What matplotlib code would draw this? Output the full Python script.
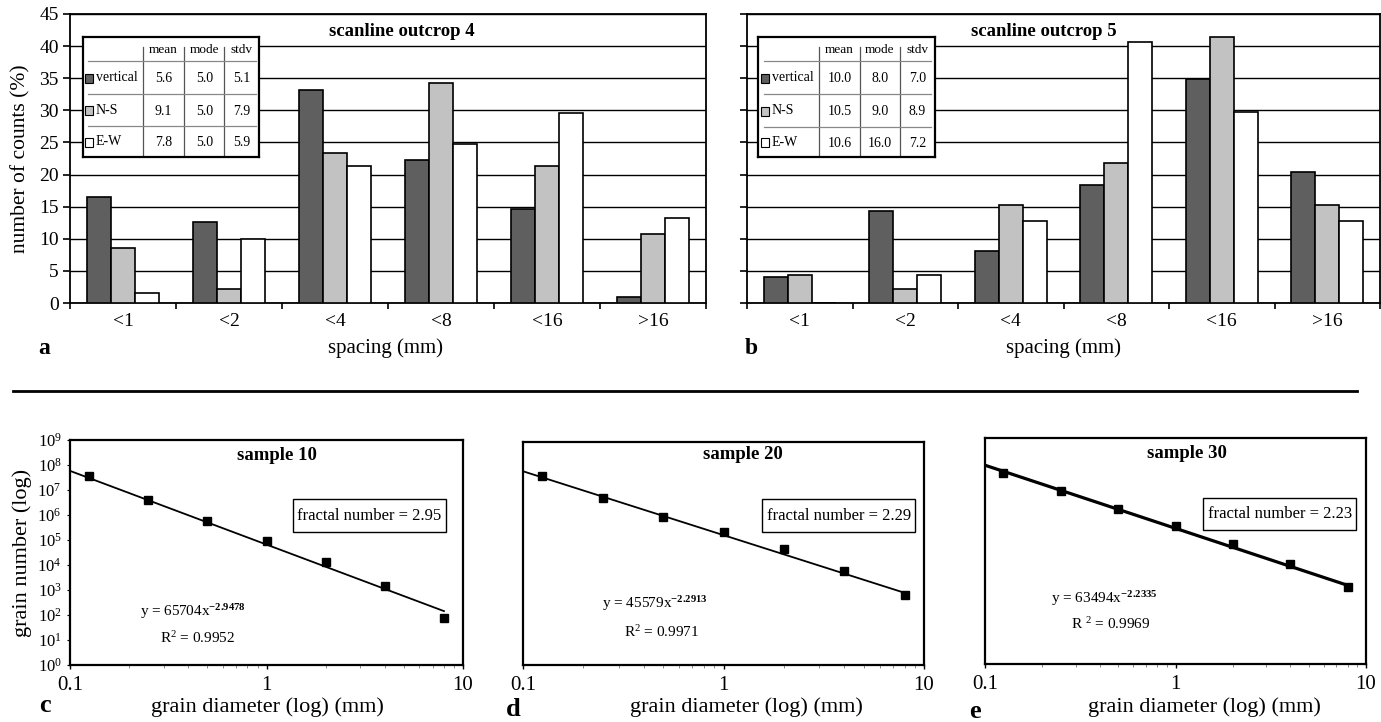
import numpy as np
import matplotlib
matplotlib.use('Agg')
import matplotlib.pyplot as plt
from matplotlib.lines import Line2D
from matplotlib.patches import Rectangle
from matplotlib.ticker import FixedLocator, NullLocator, NullFormatter, FixedFormatter, LogLocator

# ---------------- data ----------------
categories = ['<1', '<2', '<4', '<8', '<16', '>16']
series_names = ['vertical', 'N-S', 'E-W']
outcrop4_vertical = [16.5, 12.6, 33.2, 22.3, 14.6, 1.0]
outcrop4_ns = [8.5, 2.2, 23.4, 34.2, 21.4, 10.7]
outcrop4_ew = [1.6, 10.0, 21.4, 24.7, 29.6, 13.2]
outcrop5_vertical = [4.1, 14.4, 8.1, 18.4, 34.9, 20.4]
outcrop5_ns = [4.4, 2.2, 15.3, 21.8, 41.4, 15.3]
outcrop5_ew = [0.0, 4.3, 12.8, 40.6, 29.8, 12.8]
table_cols = ['mean', 'mode', 'stdv']
outcrop4_stats = [['5.6', '5.0', '5.1'], ['9.1', '5.0', '7.9'], ['7.8', '5.0', '5.9']]
outcrop5_stats = [['10.0', '8.0', '7.0'], ['10.5', '9.0', '8.9'], ['10.6', '16.0', '7.2']]

grain_diameter = [0.125, 0.25, 0.5, 1, 2, 4, 8]
sample10_counts = [3.6e7, 4.0e6, 5.9e5, 8.9e4, 1.35e4, 1.49e3, 78]
sample20_counts = [6.0e6, 9.5e5, 2.0e5, 6.0e4, 1.48e4, 2.35e3, 316]
sample30_counts = [5.6e6, 1.29e6, 3.0e5, 7.6e4, 1.77e4, 3.55e3, 534]
fit_coef = [65704, 45579, 63494]
fit_exp = [-2.9478, -2.2913, -2.2335]
r_squared = ['0.9952', '0.9971', '0.9969']
fractal_numbers = ['2.95', '2.29', '2.23']
sample_names = ['sample 10', 'sample 20', 'sample 30']

# ---------------- style ----------------
plt.rcParams['font.family'] = ['Liberation Serif', 'DejaVu Serif']
plt.rcParams['mathtext.fontset'] = 'custom'
plt.rcParams['mathtext.rm'] = 'Liberation Serif'
plt.rcParams['mathtext.it'] = 'Liberation Serif:italic'
plt.rcParams['mathtext.bf'] = 'Liberation Serif:bold'

W, H = 1381, 722
fig = plt.figure(figsize=(W / 100, H / 100), dpi=100)


def rect(l, t, r, b):
    return [l / W, 1 - b / H, (r - l) / W, (b - t) / H]


def fx(x):
    return x / W


def fy(y):
    return 1 - y / H


colors = ['#5f5f5f', '#c2c2c2', '#ffffff']
bar_w = 0.227


def bar_panel(box, series, title, title_x, table_box, stats):
    ax = fig.add_axes(box)
    x = np.arange(len(categories))
    for i, vals in enumerate(series):
        ax.bar(x + (i - 1) * bar_w, vals, width=bar_w, color=colors[i],
               edgecolor='black', linewidth=1.2, zorder=3)
    ax.set_xlim(-0.5, len(categories) - 0.5)
    ax.set_ylim(0, 45)
    ax.yaxis.set_major_locator(FixedLocator(np.arange(0, 46, 5)))
    ax.yaxis.grid(True, color='black', linewidth=1.0, zorder=0)
    ax.set_axisbelow(True)
    ax.xaxis.set_major_locator(FixedLocator(np.arange(-0.5, len(categories), 1.0)))
    ax.xaxis.set_major_formatter(NullFormatter())
    ax.xaxis.set_minor_locator(FixedLocator(x))
    ax.xaxis.set_minor_formatter(FixedFormatter(categories))
    ax.tick_params(axis='x', which='major', direction='out', length=4, width=1.2)
    ax.tick_params(axis='x', which='minor', length=0, pad=7, labelsize=14)
    ax.tick_params(axis='y', direction='out', length=5, width=1.2, pad=3, labelsize=14)
    for s in ax.spines.values():
        s.set_linewidth(1.3)
    ax.text(title_x, 0.938, title, transform=ax.transAxes, ha='center', va='center',
            fontsize=13.5, fontweight='bold')

    # inset table with legend swatches
    tb = fig.add_axes(table_box, zorder=5)
    tb.set_xlim(0, 1)
    tb.set_ylim(1, 0)
    tb.set_xticks([])
    tb.set_yticks([])
    for s in tb.spines.values():
        s.set_linewidth(1.6)
    col_edges = [0.343, 0.574, 0.802, 1.0]
    row_edges = [0.0, 0.2025, 0.475, 0.747, 1.0]
    for c in col_edges[:-1]:
        tb.plot([c, c], [0.083, 1], color='#555555', lw=0.9)
    for r in row_edges[1:-1]:
        tb.plot([0.03, 0.98], [r, r], color='#888888', lw=0.9)
    for j, name in enumerate(table_cols):
        tb.text((col_edges[j] + col_edges[j + 1]) / 2, 0.11, name, ha='center',
                va='center', fontsize=9.5)
    for i, name in enumerate(series_names):
        yc = (row_edges[i + 1] + row_edges[i + 2]) / 2 + 0.01
        tb.add_patch(Rectangle((0.014, yc - 0.04), 0.045, 0.075, facecolor=colors[i],
                               edgecolor='black', linewidth=0.8))
        tb.text(0.075, yc - 0.01, name, ha='left', va='center', fontsize=10)
        for j in range(3):
            tb.text((col_edges[j] + col_edges[j + 1]) / 2, yc, stats[i][j], ha='center',
                    va='center', fontsize=10)
    return ax


ax_a = bar_panel(rect(70, 14, 706, 303), [outcrop4_vertical, outcrop4_ns, outcrop4_ew],
                 'scanline outcrop 4', 0.522, rect(82.7, 36.7, 259.3, 156.7), outcrop4_stats)
ax_b = bar_panel(rect(747, 14, 1380, 303), [outcrop5_vertical, outcrop5_ns, outcrop5_ew],
                 'scanline outcrop 5', 0.469, rect(758.3, 36.7, 935, 157.3), outcrop5_stats)
ax_b.yaxis.set_major_formatter(NullFormatter())
ax_a.set_ylabel('number of counts (%)', fontsize=15.5, labelpad=6)

fig.text(fx(44), fy(348), 'a', fontsize=17, fontweight='bold', ha='center', va='center')
fig.text(fx(751), fy(348), 'b', fontsize=17, fontweight='bold', ha='center', va='center')
fig.text(fx(386), fy(348), 'spacing (mm)', fontsize=15, ha='center', va='center')
fig.text(fx(1063), fy(348), 'spacing (mm)', fontsize=15, ha='center', va='center')

fig.add_artist(Line2D([fx(13), fx(1357)], [fy(391), fy(391)], color='black', lw=2.0))

# ---------------- bottom panels ----------------
boxes = [rect(70, 440, 463, 665), rect(523, 442, 924, 665), rect(985, 438, 1366, 664)]
counts = [sample10_counts, sample20_counts, sample30_counts]
ytops = [1e9, 1e8, 1e8]
line_w = [1.3, 1.3, 2.3]
title_pos = [(0.527, 0.933), (0.549, 0.942), (0.529, 0.932)]
box_pos = [(0.762, 0.664, 0.389, 0.147), (0.787, 0.670, 0.381, 0.145), (0.774, 0.663, 0.402, 0.14)]
eq_pos = [(0.178, 0.236), (0.196, 0.277), (0.172, 0.291)]
r2_pos = [(0.229, 0.12), (0.251, 0.149), (0.225, 0.177)]
r2_prefix = ['R$^{2}$ = ', 'R$^{2}$ = ', 'R $^{2}$ = ']
letters = ['c', 'd', 'e']
letter_pos = [(45, 706), (513, 709), (975, 711)]
xlabel_x = [267, 746, 1204]

for k in range(3):
    ax = fig.add_axes(boxes[k])
    ax.set_xscale('log')
    ax.set_yscale('log')
    ax.set_xlim(0.1, 10)
    ax.set_ylim(1, ytops[k])
    xf = np.logspace(-1, np.log10(grain_diameter[-1]), 60)
    ax.plot(xf, fit_coef[k] * xf ** fit_exp[k], color='black', lw=line_w[k], zorder=2)
    ax.plot(grain_diameter, counts[k], 's', color='black', ms=5.5, zorder=3)
    ax.xaxis.set_major_locator(FixedLocator([0.1, 1, 10]))
    ax.xaxis.set_major_formatter(FixedFormatter(['0.1', '1', '10']))
    ax.xaxis.set_minor_locator(LogLocator(base=10, subs=np.arange(2, 10)))
    ax.xaxis.set_minor_formatter(NullFormatter())
    ax.tick_params(axis='x', which='major', length=3, width=1, pad=5, labelsize=15)
    ax.tick_params(axis='x', which='minor', length=2, width=0.6, color='#777777')
    if k == 0:
        ax.yaxis.set_major_locator(FixedLocator([10.0 ** i for i in range(10)]))
        ax.yaxis.set_major_formatter(FixedFormatter([r'$\mathregular{10^{%d}}$' % i for i in range(10)]))
        ax.yaxis.set_minor_locator(NullLocator())
        ax.tick_params(axis='y', length=2, width=0.8, pad=4, labelsize=12)
        ax.set_ylabel('grain number (log)', fontsize=16, labelpad=4)
    else:
        ax.yaxis.set_major_locator(NullLocator())
        ax.yaxis.set_minor_locator(NullLocator())
    for s in ax.spines.values():
        s.set_linewidth(1.6)
    ax.text(title_pos[k][0], title_pos[k][1], sample_names[k], transform=ax.transAxes,
            ha='center', va='center', fontsize=13.5, fontweight='bold')
    bx, by, bw, bh = box_pos[k]
    ax.add_patch(Rectangle((bx - bw / 2, by - bh / 2), bw, bh, transform=ax.transAxes,
                           facecolor='white', edgecolor='black', lw=1.0, zorder=4))
    ax.text(bx, by, 'fractal number = ' + fractal_numbers[k], transform=ax.transAxes,
            ha='center', va='center', fontsize=12, zorder=5)
    ax.text(eq_pos[k][0], eq_pos[k][1],
            'y = %dx$^{\\mathbf{%s}}$' % (fit_coef[k], '%.4f' % fit_exp[k]),
            transform=ax.transAxes, ha='left', va='center', fontsize=11)
    ax.text(r2_pos[k][0], r2_pos[k][1], r2_prefix[k] + r_squared[k],
            transform=ax.transAxes, ha='left', va='center', fontsize=11)
    fig.text(fx(letter_pos[k][0]), fy(letter_pos[k][1]), letters[k], fontsize=19,
             fontweight='bold', ha='center', va='center')
    fig.text(fx(xlabel_x[k]), fy(707), 'grain diameter (log) (mm)', fontsize=16,
             ha='center', va='center')

fig.savefig('out.png', dpi=100)
